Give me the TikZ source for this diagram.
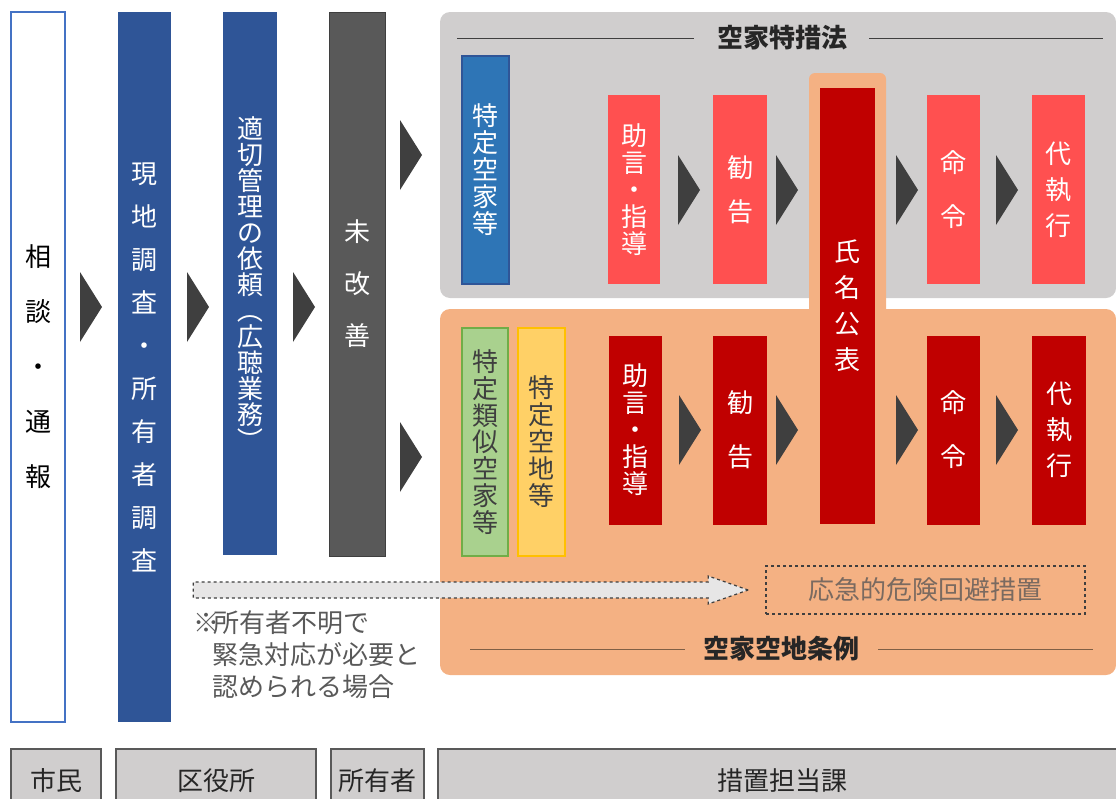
\documentclass[tikz,border=0pt]{standalone}
\usepackage{fontspec}
\setmainfont{Noto Sans CJK JP}
\usetikzlibrary{positioning}
\definecolor{navy}{HTML}{2F5597}
\definecolor{skyblue}{HTML}{2E75B6}
\definecolor{frameblue}{HTML}{4472C4}
\definecolor{lred}{HTML}{FF5050}
\definecolor{dred}{HTML}{C00000}
\definecolor{stone}{HTML}{595959}
\definecolor{coal}{HTML}{3F3F3F}
\definecolor{panelgray}{HTML}{D0CECE}
\definecolor{panelorange}{HTML}{F4B183}
\definecolor{leaf}{HTML}{A9D18E}
\definecolor{leafline}{HTML}{70AD47}
\definecolor{sand}{HTML}{FFD066}
\definecolor{sandline}{HTML}{FFC000}
\definecolor{mist}{HTML}{E7E6E6}
\definecolor{dust}{HTML}{7A6A60}
\definecolor{bark}{HTML}{7F5F45}
\definecolor{ink}{HTML}{262626}
\newcommand{\jpv}[1]{\fontsize{26}{#1}\selectfont}
\newcommand{\vparen}[1]{\smash{\rotatebox[origin=c]{-90}{#1}}}
\tikzstyle{vbox} = [rectangle, inner sep=0pt, align=center, text=white]
\tikzstyle{tri} = [fill=coal]
\tikzstyle{tag} = [rectangle, draw=stone, line width=1.5pt, fill=panelgray, inner sep=0pt, text=ink, font=\jpv{30}]
\tikzstyle{ttl} = [text=ink, font=\bfseries\jpv{30}]
\tikzstyle{dasharrow} = [draw=coal, dashed, line width=1.2pt, fill=mist]
\tikzset{sz/.style 2 args={minimum width=#1, minimum height=#2}}

\begin{document}
\begin{tikzpicture}[x=1pt, y=-1pt]
\useasboundingbox (0,0) rectangle (1116,798);

% panels
\fill[panelgray, rounded corners=10pt] (440,12) rectangle (1116,298);
\fill[panelorange, rounded corners=10pt] (440,309) rectangle (1116,675);
\fill[panelorange, rounded corners=6pt] (809,73) rectangle (886,320);

% left columns
\node[vbox, fill=white, draw=frameblue, line width=1.5pt, text=black, sz={54pt}{710pt}, font=\jpv{55}] (soudan) at (38,367) {相\\談\\・\\通\\報};
\node[vbox, fill=navy, sz={53pt}{710pt}, font=\jpv{43}] (genchi) at (144.5,367) {現\\地\\調\\査\\・\\所\\有\\者\\調\\査};
\node[vbox, fill=navy, sz={54pt}{543pt}, font=\jpv{26}] (irai) at (250,283.5) {適\\切\\管\\理\\の\\依\\頼\\\vparen{（}\\広\\聴\\業\\務\\\vparen{）}};
\node[vbox, fill=stone, draw=coal, line width=1pt, sz={56pt}{544pt}, font=\jpv{52}] (mikaizen) at (357,284) {未\\改\\善};

% upper panel
\node[ttl] (tokusoho) at (782.5,38) {空家特措法};
\draw[coal, line width=1pt] (457,38) -- ([xshift=-20pt]tokusoho.west);
\draw[coal, line width=1pt] ([xshift=18pt]tokusoho.east) -- (1103,38);
\node[vbox, fill=skyblue, draw=navy, line width=1.5pt, sz={47pt}{228pt}, font=\jpv{27}] (tokuA) at (485.5,170) {特\\定\\空\\家\\等};
\node[vbox, fill=lred, sz={52pt}{189pt}, font=\jpv{27}] (joA) at (634,189.5) {助\\言\\・\\指\\導};
\node[vbox, fill=lred, sz={54pt}{189pt}, font=\jpv{44}] (kanA) at (740,189.5) {勧\\告};
\node[vbox, fill=dred, sz={55pt}{436pt}, font=\jpv{36}] (shimei) at (847,306) {氏\\名\\公\\表};
\node[vbox, fill=lred, sz={53pt}{189pt}, font=\jpv{54}] (meiA) at (953.5,189.5) {命\\令};
\node[vbox, fill=lred, sz={53pt}{189pt}, font=\jpv{36}] (daiA) at (1058.5,189.5) {代\\執\\行};

% lower panel
\node[vbox, fill=leaf, draw=leafline, line width=1.5pt, text=coal, sz={46pt}{228pt}, font=\jpv{26.7}] (ruiji) at (485,442) {特\\定\\類\\似\\空\\家\\等};
\node[vbox, fill=sand, draw=sandline, line width=1.5pt, text=coal, sz={47pt}{228pt}, font=\jpv{27}] (akichi) at (541.5,442) {特\\定\\空\\地\\等};
\node[vbox, fill=dred, sz={53pt}{189pt}, font=\jpv{27}] (joB) at (635.5,430) {助\\言\\・\\指\\導};
\node[vbox, fill=dred, sz={54pt}{189pt}, font=\jpv{54}] (kanB) at (740,430) {勧\\告};
\node[vbox, fill=dred, sz={53pt}{189pt}, font=\jpv{54}] (meiB) at (953.5,430) {命\\令};
\node[vbox, fill=dred, sz={54pt}{189pt}, font=\jpv{36}] (daiB) at (1059,430) {代\\執\\行};

\node[draw=coal, dashed, line width=1.5pt, sz={319pt}{48pt}, inner sep=0pt, text=dust, font=\jpv{30}] (kinkyu) at (925.5,590) {応急的危険回避措置};
\coordinate (atip) at ([xshift=-17pt]kinkyu.west);
\draw[dasharrow] (atip) -- ++(-40,-14) -- ++(0,6) -- ++(-515,0) -- ++(0,16) -- ++(515,0) -- ++(0,6) -- cycle;
\node[anchor=west, inner sep=0pt, align=left, text=stone, font=\jpv{32}] (note) at (193,654.5) {※\kern-6pt 所有者不明で\\\hspace*{19pt}緊急対応が必要と\\\hspace*{19pt}認められる場合};

\node[ttl] (jorei) at (781.5,649) {空家空地条例};
\draw[bark, line width=1pt] (470,649) -- ([xshift=-15pt]jorei.west);
\draw[bark, line width=1pt] ([xshift=15pt]jorei.east) -- (1093,649);

% chevrons
\foreach \x/\y in {80/307, 187/307, 293/307, 400/155, 400/457, 678/190, 776/190, 896/190, 996/190, 679/430, 776/430, 896/430, 996/430}
  \fill[tri] (\x,\y-35) -- (\x+22,\y) -- (\x,\y+35) -- cycle;

% bottom tags
\node[tag, sz={90pt}{64pt}] (shimin) at (56,781) {市民};
\node[tag, sz={200pt}{64pt}] (kuyakusho) at (216,781) {区役所};
\node[tag, sz={93pt}{64pt}] (shoyusha) at (377.5,781) {所有者};
\node[tag, sz={688pt}{64pt}] (tanto) at (782,781) {措置担当課};
\end{tikzpicture}
\end{document}
